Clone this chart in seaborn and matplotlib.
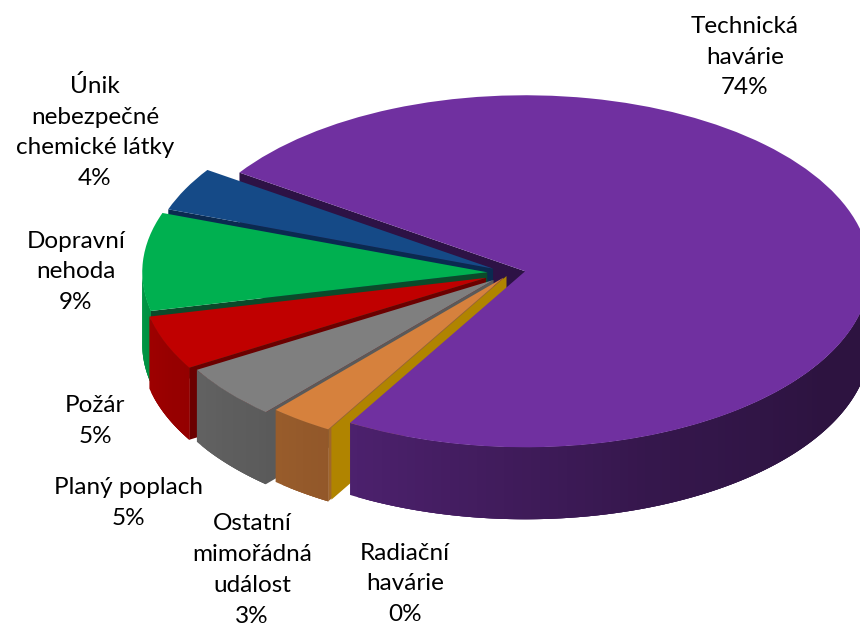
import numpy as np
import seaborn as sns
import matplotlib.pyplot as plt

# Slices in drawing order, clockwise from the big one
names = ['Technická\nhavárie', 'Radiační\nhavárie', 'Ostatní\nmimořádná\nudálost',
         'Planý poplach', 'Požár', 'Dopravní\nnehoda', 'Únik\nnebezpečné\nchemické látky']
values = [74, 0, 3, 5, 5, 9, 4]
top_colors = ['#7030A0', '#BF9000', '#D6813D', '#7F7F7F', '#C00000', '#00B050', '#154A87']
face_colors = ['#2D1245', '#B08400', '#A0662B', '#5A5A5A', '#6B0000', '#0B4A2A', '#0A2A50']
explode = [0.045, 0.02, 0.033, 0.062, 0.075, 0.066, 0.055]

# Layout, in pixels of the 860x628 picture
W, H = 860, 628
CX, CY = 510, 273
RX, RY = 345, 176
DEPTH = 72 / RY
label_px = [(745, 57), (405, 584), (252, 570), (128, 503), (95, 421), (76, 272), (95, 132)]

sns.set_style('white')
plt.rcParams['font.family'] = ['Lato', 'DejaVu Sans']

fig = plt.figure(figsize=(W / 100, H / 100), dpi=100)
ax = fig.add_axes([0, 0, 1, 1])

wedges, _ = ax.pie(values, explode=explode, startangle=145.9, counterclock=False,
                   colors=sns.color_palette(top_colors), radius=1,
                   wedgeprops={'linewidth': 0})

# pie forces equal aspect, squash it into an ellipse
ax.set_aspect('auto')
ax.set_xlim(-CX / RX, (W - CX) / RX)
ax.set_ylim((CY - H) / RY, CY / RY)
ax.axis('off')


def wall_shade(deg):
    # the outer wall gets darker going right around the front
    return np.interp(deg % 360, [180, 240, 290, 330, 360], [0.86, 0.68, 0.48, 0.40, 0.40])


# purple goes on top of everything, but its cut face stays behind
zorders = [20, 16, 14, 12, 10, 8, 6]
for i, w in enumerate(wedges):
    x0, y0 = w.center
    z = zorders[i]
    w.set_zorder(z + 1)

    # radial cut face along the lower edge of the slice
    rim_x = x0 + np.cos(np.radians(w.theta2))
    rim_y = y0 + np.sin(np.radians(w.theta2))
    ax.fill([x0, rim_x, rim_x, x0], [y0, rim_y, rim_y - DEPTH, y0 - DEPTH],
            color=face_colors[i], lw=0, zorder=1 if i == 0 else z - 1)

    # outer wall in strips for the shading, each one runs under the next so no seams show
    base = np.array(plt.matplotlib.colors.to_rgb(top_colors[i]))
    starts = np.arange(w.theta1, w.theta2, 1.5)
    for a in starts:
        mid = a + 0.75
        if np.sin(np.radians(mid)) > 0.02:
            continue
        end = min(a + 4.5, w.theta2)
        t = np.radians(np.linspace(a, end, 5))
        xs = x0 + np.cos(t)
        ys = y0 + np.sin(t)
        ax.fill(np.r_[xs, xs[::-1]], np.r_[ys, ys[::-1] - DEPTH],
                color=base * wall_shade(mid), lw=0, zorder=z)

for name, value, (px, py) in zip(names, values, label_px):
    fig.text(px / W, 1 - py / H, f'{name}\n{value}%', ha='center', va='center',
             fontsize=17.5, linespacing=1.58, color='black')

fig.savefig('out.png', dpi=100)
